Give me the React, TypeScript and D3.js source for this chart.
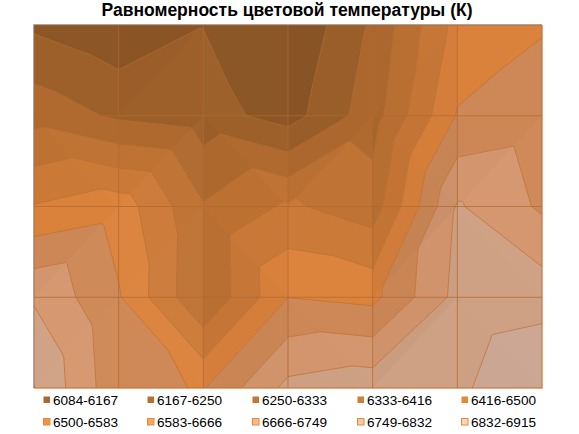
import React from "react";
import * as d3 from "d3";

const title = "Равномерность цветовой температуры (К)";
const row0 = [6152, 6100, 6165, 6084, 6264, 6530, 6577];
const row1 = [6303, 6236, 6205, 6130, 6297, 6589, 6620];
const row2 = [6505, 6548, 6340, 6429, 6370, 6758, 6653];
const row3 = [6740, 6590, 6335, 6582, 6560, 6774, 6798];
const row4 = [6835, 6605, 6578, 6773, 6803, 6814, 6915];
// which way each grid cell is split into two facets: 1 = top-right to bottom-left, 0 = top-left to bottom-right
const split0 = [1, 1, 1, 1, 1, 1];
const split1 = [0, 1, 0, 1, 0, 1];
const split2 = [1, 1, 0, 0, 1, 0];
const split3 = [1, 0, 1, 0, 1, 0];
const levels = [6084, 6167, 6250, 6333, 6416, 6500, 6583, 6666, 6749, 6832, 6915];
const legendLabels = ["6084-6167", "6167-6250", "6250-6333", "6333-6416", "6416-6500", "6500-6583", "6583-6666", "6666-6749", "6749-6832", "6832-6915"];
const bandColors = ["#8C5626", "#9D602B", "#B06A2F", "#BF7334", "#CC7A38", "#DC833D", "#CF8958", "#D5976F", "#D0A285", "#CDA895"];
const lineColors = ["#A9682E", "#AE6A2F", "#B46E31", "#BC7234", "#C07536", "#C27838", "#C27A40", "#C27C46", "#C27E4C"];
const legendColors = ["#A9682E", "#B76F31", "#C57734", "#D17E36", "#E38839", "#F2933E", "#F4A868", "#F5B98D", "#F5C8A8", "#F9D6C0"];
const legendStroke = ["none", "none", "none", "none", "none", "#E58A3C", "#E58A3C", "#E58A3C", "#E58A3C", "#E58A3C"];

const W = 579, H = 434;
const L = 34, R = 542, T = 25, B = 388;
const SUB = 24;

const grid = [row0, row1, row2, row3, row4];
const splits = [split0, split1, split2, split3];
const nc = row0.length, nr = grid.length;
const x = d3.scaleLinear().domain([0, nc - 1]).range([L, R]);
const y = d3.scaleLinear().domain([0, nr - 1]).range([T, B]);

const useAnti = (c: number, r: number) => splits[r][c] === 1;
function sample(u: number, v: number) {
  const c = Math.min(nc - 2, Math.floor(u)), r = Math.min(nr - 2, Math.floor(v));
  const a = u - c, b = v - r;
  const p00 = grid[r][c], p10 = grid[r][c + 1], p01 = grid[r + 1][c], p11 = grid[r + 1][c + 1];
  if (useAnti(c, r)) {
    return a + b <= 1 ? p00 + a * (p10 - p00) + b * (p01 - p00) : p11 + (1 - a) * (p01 - p11) + (1 - b) * (p10 - p11);
  }
  return a >= b ? p00 + a * (p10 - p00) + b * (p11 - p10) : p00 + b * (p01 - p00) + a * (p11 - p01);
}

const fw = (nc - 1) * SUB + 3, fh = (nr - 1) * SUB + 3;
const field: number[] = [];
for (let j = 0; j < fh; j++) {
  for (let i = 0; i < fw; i++) {
    const u = Math.max(0, Math.min(nc - 1, (i - 1) / SUB));
    const v = Math.max(0, Math.min(nr - 1, (j - 1) / SUB));
    field.push(sample(u, v));
  }
}
const contourGen = d3.contours().size([fw, fh]).smooth(true).thresholds(levels.slice(0, -1));
const bands = contourGen(field);
// field coordinate -> pixel: sample index i sits at i + 0.5
const fx = d3.scaleLinear().domain([1.5, fw - 1.5]).range([L, R]);
const fy = d3.scaleLinear().domain([1.5, fh - 1.5]).range([T, B]);
const geoPath = d3.geoPath(d3.geoTransform({
  point(px: number, py: number) {
    (this as any).stream.point(fx(px), fy(py));
  },
}));

type Tri = { d: string; fill: string; op: number };
const tris: Tri[] = [];
const lineGen = d3.line<[number, number]>().x((p) => x(p[0])).y((p) => y(p[1]));
const shadeOf = (pts: [number, number][]) => {
  const val = (p: [number, number]) => grid[p[1]][p[0]];
  const [A, B2, C] = pts;
  const ux = x(B2[0]) - x(A[0]), uy = y(B2[1]) - y(A[1]), uz = val(B2) - val(A);
  const vx = x(C[0]) - x(A[0]), vy = y(C[1]) - y(A[1]), vz = val(C) - val(A);
  const det = ux * vy - uy * vx;
  const gx = (uz * vy - vz * uy) / det;
  const gy = (ux * vz - vx * uz) / det;
  return -0.009 * gx - 0.002 * gy;
};
for (let r = 0; r < nr - 1; r++) {
  for (let c = 0; c < nc - 1; c++) {
    const pairs: [number, number][][] = useAnti(c, r)
      ? [[[c, r], [c + 1, r], [c, r + 1]], [[c + 1, r], [c + 1, r + 1], [c, r + 1]]]
      : [[[c, r], [c + 1, r], [c + 1, r + 1]], [[c, r], [c + 1, r + 1], [c, r + 1]]];
    for (const t of pairs) {
      const s = shadeOf(t);
      tris.push({ d: (lineGen(t) as string) + "Z", fill: s > 0 ? "#fff" : "#000", op: Math.min(0.09, Math.abs(s)) });
    }
  }
}

const legendX = [43, 147, 252, 357, 461];
const legendY = [400, 422];

export default function App() {
  return (
    <svg width={W} height={H} style={{ position: "absolute", left: 0, top: 0 }} fontFamily="'Liberation Sans', Arial, sans-serif">
      <rect width={W} height={H} fill="#fff" />
      <defs>
        <clipPath id="plot"><rect x={L} y={T} width={R - L} height={B - T} /></clipPath>
      </defs>
      <text x={287} y={16} textAnchor="middle" fontSize={17.5} fontWeight="bold" fill="#000">{title}</text>
      <g clipPath="url(#plot)">
        {bands.map((b, i) => (
          <path key={i} d={geoPath(b as any) as string} fill={bandColors[i]} />
        ))}
        {tris.map((t, i) => (
          <path key={i} d={t.d} fill={t.fill} fillOpacity={t.op} />
        ))}
        {bands.slice(1).map((b, i) => (
          <path key={i} d={geoPath(b as any) as string} fill="none" stroke={lineColors[i]} strokeWidth={1} />
        ))}
        {x.ticks(nc - 1).map((t) => (
          <line key={t} x1={x(t)} x2={x(t)} y1={T} y2={B} stroke="#B06A30" strokeOpacity={0.75} strokeWidth={1} />
        ))}
        {y.ticks(nr - 1).map((t) => (
          <line key={t} x1={L} x2={R} y1={y(t)} y2={y(t)} stroke="#B06A30" strokeOpacity={0.75} strokeWidth={1} />
        ))}
      </g>
      <path d={`M${L - 0.5} ${B}V${T - 0.5}H${R}`} fill="none" stroke="#A6A6A6" strokeWidth={1} />
      <path d={`M${R + 0.5} ${T}V${B + 0.5}H${L}`} fill="none" stroke="#E3A878" strokeWidth={1} />
      {legendLabels.map((lab, i) => {
        const cx = legendX[i % 5], cy = legendY[Math.floor(i / 5)];
        return (
          <g key={lab}>
            <rect x={cx + 0.5} y={cy - 3.5} width={6.5} height={6.5} fill={legendColors[i]} stroke={legendStroke[i]} strokeWidth={1} />
            <text x={cx + 10} y={cy + 5} fontSize={13.6} fill="#000">{lab}</text>
          </g>
        );
      })}
    </svg>
  );
}
